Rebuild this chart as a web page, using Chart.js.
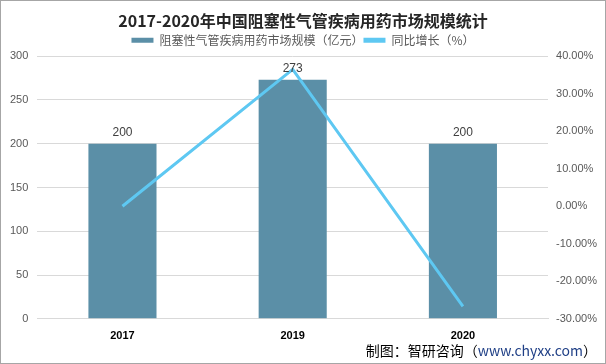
<!DOCTYPE html>
<html>
<head>
<meta charset="utf-8">
<script src="https://cdn.jsdelivr.net/npm/chart.js@4/dist/chart.umd.min.js"></script>
<style>
  body { margin: 0; background: #fff; }
  #wrap { position: relative; width: 604px; height: 362px; border: 1px solid #a6a6a6; }
  #footer { position: absolute; right: 8px; bottom: 3px; font: 14px "Noto Sans CJK SC", sans-serif; color: #000; }
  #footer span { color: #1f3f86; }
</style>
</head>
<body>
<div id="wrap">
  <canvas id="chart" width="604" height="362"></canvas>
  <div id="footer">制图：智研咨询（<span>www.chyxx.com</span>）</div>
</div>
<script>
// 数据
const years = ['2017', '2019', '2020'];
const marketSize = [200, 273, 200];
const growthRate = [0, 36.5, -26.7];

// 柱顶数值标签
const barLabels = {
    id: 'barLabels',
    afterDatasetsDraw(chart) {
        const ctx = chart.ctx;
        const meta = chart.getDatasetMeta(1);
        ctx.save();
        ctx.font = '12px "Liberation Sans", sans-serif';
        ctx.fillStyle = '#404040';
        ctx.textAlign = 'center';
        ctx.textBaseline = 'bottom';
        meta.data.forEach((bar, i) => {
            ctx.fillText(marketSize[i], bar.x, bar.y - 5);
        });
        ctx.restore();
    }
};

const ctx = document.getElementById('chart').getContext('2d');
new Chart(ctx, {
    data: {
        labels: years,
        datasets: [{
            type: 'line',
            label: '同比增长（%）',
            data: growthRate,
            yAxisID: 'y1',
            borderColor: '#5ec8f2',
            backgroundColor: '#5ec8f2',
            borderWidth: 3,
            pointRadius: 0,
            tension: 0,
            order: 0
        }, {
            type: 'bar',
            label: '阻塞性气管疾病用药市场规模（亿元）',
            data: marketSize,
            yAxisID: 'y',
            backgroundColor: '#5b8fa7',
            borderWidth: 0,
            barPercentage: 0.8,
            categoryPercentage: 0.5,
            order: 1
        }]
    },
    options: {
        responsive: false,
        animation: false,
        layout: { padding: { left: 0, right: 0, top: 10, bottom: 17 } },
        plugins: {
            title: {
                display: true,
                text: '2017-2020年中国阻塞性气管疾病用药市场规模统计',
                color: '#262626',
                font: { size: 16, weight: 'bold', family: '"Noto Sans CJK SC", sans-serif' },
                padding: { top: 0, bottom: 4 }
            },
            legend: {
                display: true,
                reverse: true,
                labels: {
                    color: '#595959',
                    font: { size: 12, family: '"Noto Sans CJK SC", sans-serif' },
                    boxWidth: 22,
                    boxHeight: 5,
                    padding: 0,
                    generateLabels(chart) {
                        return chart.data.datasets.map((ds, i) => ({
                            text: ds.label,
                            fillStyle: ds.type === 'bar' ? ds.backgroundColor : ds.borderColor,
                            strokeStyle: ds.type === 'bar' ? ds.backgroundColor : ds.borderColor,
                            lineWidth: 0,
                            datasetIndex: i,
                            fontColor: '#595959'
                        }));
                    }
                }
            },
            tooltip: { enabled: false }
        },
        scales: {
            x: {
                grid: { display: false },
                border: { display: true, color: '#d9d9d9' },
                ticks: { color: '#000', font: { size: 11, weight: 'bold', family: '"Liberation Sans", sans-serif' } }
            },
            y: {
                position: 'left',
                min: 0,
                max: 300,
                ticks: { stepSize: 50, color: '#595959', font: { size: 11, family: '"Liberation Sans", sans-serif' }, padding: 9 },
                grid: { color: '#d9d9d9', drawTicks: false },
                border: { display: false }
            },
            y1: {
                position: 'right',
                min: -30,
                max: 40,
                ticks: {
                    stepSize: 10,
                    color: '#595959',
                    font: { size: 11, family: '"Liberation Sans", sans-serif' },
                    padding: 8,
                    callback: v => v.toFixed(2) + '%'
                },
                grid: { display: false, drawTicks: false },
                border: { display: false }
            }
        }
    },
    plugins: [barLabels]
});
</script>
</body>
</html>
